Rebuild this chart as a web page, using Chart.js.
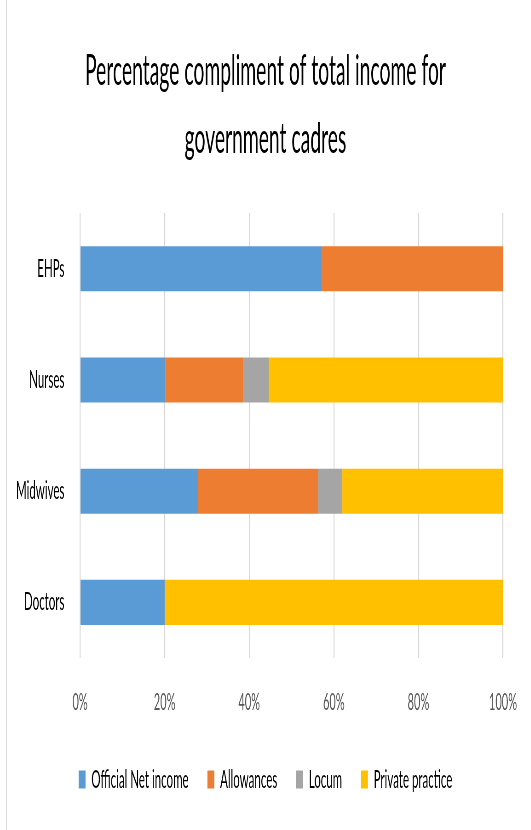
<!DOCTYPE html>
<html>
<head>
<meta charset="utf-8">
<title>Income by cadre</title>
<script src="https://cdn.jsdelivr.net/npm/chart.js@4"></script>
<style>
  html, body { margin: 0; padding: 0; background: #fff; overflow: hidden; }
  /* the chart is laid out wide, then squeezed to give the narrow lettering */
  #wrap {
    position: absolute; left: 0; top: 0;
    width: 1154px; height: 830px;
    transform: scaleX(0.46); transform-origin: 0 0;
  }
  #edge { position: absolute; left: 6px; top: 0; width: 1px; height: 830px; background: #d9d9d9; }
</style>
</head>
<body>
<div id="edge"></div>
<div id="wrap"><canvas id="incomeChart"></canvas></div>
<script>
// cadres, top to bottom
const cadres = ['EHPs', 'Nurses', 'Midwives', 'Doctors'];

// share of total income (%) per cadre
const officialNet = [57.1, 20.2, 27.9, 20.0];
const allowances  = [42.9, 18.3, 28.4, 0];
const locum       = [0, 6.1, 5.7, 0];
const privatePractice = [0, 55.4, 38.0, 80.0];

const xTicks = [0, 20, 40, 60, 80, 100];

const FONT = "Lato, 'Open Sans', sans-serif";

window.onload = function () {
  const ctx = document.getElementById('incomeChart').getContext('2d');

  new Chart(ctx, {
    type: 'bar',
    data: {
      labels: cadres,
      datasets: [
        { label: 'Official Net income', data: officialNet, backgroundColor: '#5B9BD5' },
        { label: 'Allowances', data: allowances, backgroundColor: '#ED7D31' },
        { label: 'Locum', data: locum, backgroundColor: '#A5A5A5' },
        { label: 'Private practice', data: privatePractice, backgroundColor: '#FFC000' }
      ]
    },
    options: {
      indexAxis: 'y',
      responsive: true,
      maintainAspectRatio: false,
      animation: false,
      datasets: {
        bar: { categoryPercentage: 1, barPercentage: 0.405, borderWidth: 0 }
      },
      layout: { autoPadding: false, padding: { left: 0, right: 0, top: 0, bottom: 28 } },
      scales: {
        x: {
          stacked: true,
          min: 0,
          max: 100,
          afterBuildTicks: axis => { axis.ticks = xTicks.map(v => ({ value: v })); },
          afterFit: axis => { axis.height = 68; },
          grid: { color: '#d9d9d9', lineWidth: 2.2, drawTicks: false },
          border: { display: false },
          ticks: {
            padding: 30,
            color: '#595959',
            font: { family: FONT, size: 24 },
            callback: v => v + '%'
          }
        },
        y: {
          stacked: true,
          afterFit: axis => { axis.width = 174; },
          grid: { display: false },
          border: { display: false },
          ticks: {
            padding: 26,
            color: '#000',
            font: { family: FONT, size: 25 }
          }
        },
        // empty right-hand axis, only holds the space right of the plot
        yRight: {
          type: 'category',
          position: 'right',
          labels: cadres,
          afterFit: axis => { axis.width = 44; },
          grid: { display: false },
          border: { display: false },
          ticks: { display: false }
        }
      },
      plugins: {
        title: {
          display: true,
          text: ['Percentage compliment of total income for', 'government cadres'],
          color: '#000',
          font: { family: FONT, size: 42, weight: 'normal', lineHeight: 1.62 },
          padding: { top: 37, bottom: 40 }
        },
        legend: {
          position: 'bottom',
          labels: {
            color: '#000',
            boxWidth: 15,
            boxHeight: 18,
            padding: 41,
            font: { family: FONT, size: 25 }
          }
        },
        tooltip: { enabled: false }
      }
    }
  });
};
</script>
</body>
</html>
